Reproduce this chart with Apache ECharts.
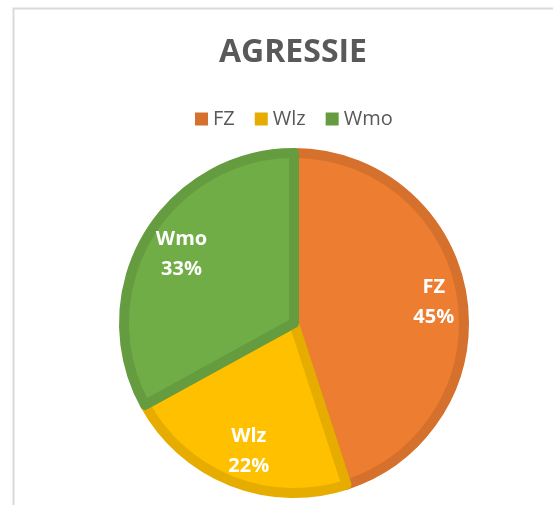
<!DOCTYPE html>
<html>
<head>
<meta charset="utf-8">
<script src="https://cdn.jsdelivr.net/npm/echarts@6/dist/echarts.min.js"></script>
<style>
html, body { margin: 0; padding: 0; background: #fff; }
#agressie { width: 553px; height: 505px; }
</style>
</head>
<body>
<div id="agressie"></div>
<script>
var categories = ['FZ', 'Wlz', 'Wmo'];
var values = [45, 22, 33];
var fills = ['#ED7D31', '#FFC000', '#70AD47'];
var borders = ['#D5712C', '#E6AD00', '#659C40'];

var font = '"Open Sans", sans-serif';
var R = 170;

var pieData = categories.map(function (name, i) {
    return {
        name: name,
        value: values[i],
        itemStyle: { color: fills[i], borderColor: borders[i], borderWidth: 10 }
    };
});
var labelData = categories.map(function (name, i) {
    return { name: name, value: values[i] };
});
var legendData = categories.map(function (name, i) {
    return { name: name, itemStyle: { color: borders[i], borderWidth: 0 } };
});

var option = {
    animation: false,
    title: {
        text: 'AGRESSIE',
        left: 288,
        textAlign: 'center',
        top: 32,
        textStyle: { fontFamily: font, fontSize: 32, fontWeight: 'bold', color: '#595959' }
    },
    legend: {
        data: legendData,
        left: 190,
        top: 104,
        icon: 'rect',
        itemWidth: 13,
        itemHeight: 13,
        itemGap: 20,
        textStyle: { fontFamily: font, fontSize: 20, color: '#595959' }
    },
    graphic: [{
        type: 'rect',
        shape: { x: 13.5, y: 8.5, width: 700, height: 700 },
        style: { fill: 'none', stroke: '#D9D9D9', lineWidth: 2 },
        silent: true
    }],
    color: fills,
    series: [
        {
            name: 'AGRESSIE',
            type: 'pie',
            center: [294, 323],
            radius: [0, R],
            startAngle: 90,
            clockwise: true,
            label: { show: false },
            labelLine: { show: false },
            data: pieData
        },
        {
            // transparent ring only used to put the labels further out
            name: 'labels',
            type: 'pie',
            center: [299, 324],
            radius: [R * 0.57, R],
            startAngle: 90,
            clockwise: true,
            silent: true,
            itemStyle: { color: 'rgba(0,0,0,0)', borderWidth: 0 },
            label: {
                show: true,
                position: 'inside',
                formatter: '{b}\n{d}%',
                fontFamily: font,
                fontSize: 20,
                fontWeight: 'bold',
                lineHeight: 30,
                color: '#fff'
            },
            labelLine: { show: false },
            data: labelData
        }
    ]
};

var myChart = echarts.init(document.getElementById('agressie'));
myChart.setOption(option);
</script>
</body>
</html>
